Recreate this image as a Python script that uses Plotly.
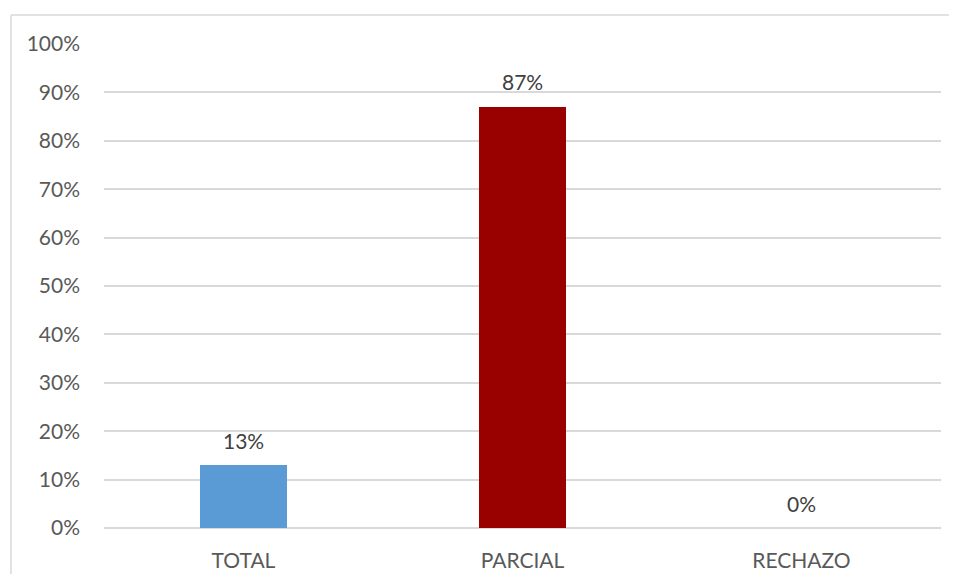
import plotly.graph_objects as go

categories = ["TOTAL", "PARCIAL", "RECHAZO"]
values = [13, 87, 0]
bar_colors = ["#5B9BD5", "#990000", "#990000"]
tick_vals = [0, 10, 20, 30, 40, 50, 60, 70, 80, 90, 100]
tick_text = [f"{v}%" for v in tick_vals]

OFF = 8  # page body margin
W, H = 957 - 2 * OFF, 582 - 2 * OFF
L, R, T, B = 104 - OFF, 8, 44 - OFF, 54 - OFF
pw, ph = W - L - R, H - T - B
FONT = "Lato, Carlito, sans-serif"

fig = go.Figure(go.Bar(
    x=categories, y=values,
    marker=dict(color=bar_colors, line=dict(width=0)),
    width=0.315,
    hoverinfo="x+y",
))

for c, v in zip(categories, values):
    fig.add_annotation(x=c, y=v, text=f"{v}%", showarrow=False,
                       yanchor="middle", yshift=25,
                       font=dict(size=21, color="#404040", family=FONT))

fig.update_layout(
    width=W, height=H,
    margin=dict(l=L, r=R, t=T, b=B, pad=0, autoexpand=False),
    paper_bgcolor="white", plot_bgcolor="white",
    font=dict(family=FONT, size=21, color="#595959"),
    showlegend=False,
    bargap=0,
    xaxis=dict(showgrid=False, showline=False, ticks="", ticklabelstandoff=18,
               automargin=False, tickfont=dict(size=21, color="#595959")),
    yaxis=dict(range=[0, 100], tickvals=tick_vals, ticktext=tick_text,
               showgrid=True, gridcolor="#D9D9D9", gridwidth=1.5,
               zeroline=True, zerolinecolor="#D9D9D9", zerolinewidth=1.5,
               showline=False, ticks="", ticklabelstandoff=23, automargin=False,
               tickfont=dict(size=21, color="#595959")),
)

# chart border (left and top edges visible)
x0 = (11 - 104) / pw
y1 = 1 + (44 - 15) / ph
fig.add_shape(type="line", xref="paper", yref="paper", x0=x0, x1=x0, y0=-B / ph, y1=y1,
              line=dict(color="#D9D9D9", width=1.5))
fig.add_shape(type="line", xref="paper", yref="paper", x0=x0, x1=1 + R / pw, y0=y1, y1=y1,
              line=dict(color="#D9D9D9", width=1.5))

fig.write_html("out.html")
